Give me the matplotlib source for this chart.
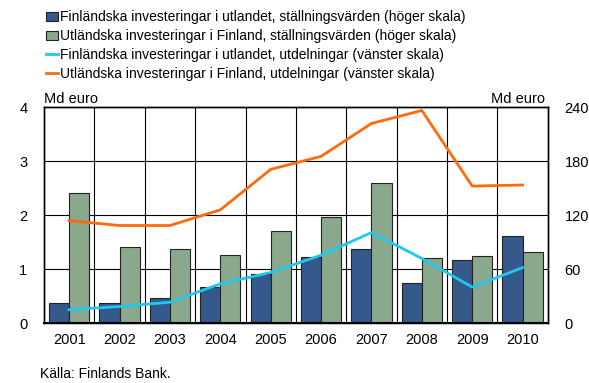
import numpy as np
import matplotlib.pyplot as plt

plt.rcParams['font.family'] = ['Liberation Sans', 'DejaVu Sans']

years = ["2001", "2002", "2003", "2004", "2005", "2006", "2007", "2008", "2009", "2010"]

# stocks, billion euro (right axis)
fi_abroad_stock = [23, 22, 28.5, 40, 55, 74, 83, 45, 70, 97]
foreign_in_fi_stock = [145, 85, 82, 76, 102, 118, 156, 72, 75, 79]

# dividends, billion euro (left axis)
fi_abroad_div = [0.25, 0.31, 0.39, 0.73, 0.94, 1.26, 1.68, 1.20, 0.67, 1.03]
foreign_in_fi_div = [1.90, 1.81, 1.81, 2.10, 2.85, 3.09, 3.70, 3.94, 2.54, 2.56]

labels = [
    "Finländska investeringar i utlandet, ställningsvärden (höger skala)",
    "Utländska investeringar i Finland, ställningsvärden (höger skala)",
    "Finländska investeringar i utlandet, utdelningar (vänster skala)",
    "Utländska investeringar i Finland, utdelningar (vänster skala)",
]

x = np.arange(len(years))

fig = plt.figure(figsize=(5.89, 3.83), dpi=100)
ax = fig.add_axes([0.0747, 0.156, 0.8553, 0.564])
ax2 = ax.twinx()

b1 = ax2.bar(x - 0.2, fi_abroad_stock, width=0.4, color="#36598b",
             edgecolor="#222222", linewidth=0.8, zorder=2)
b2 = ax2.bar(x + 0.2, foreign_in_fi_stock, width=0.4, color="#8aa88c",
             edgecolor="#222222", linewidth=0.8, zorder=2)
ax2.set_ylim(0, 240)
ax2.set_yticks([0, 60, 120, 180, 240])

# lines drawn on top of the bars
ax.set_zorder(ax2.get_zorder() + 1)
ax.patch.set_visible(False)
l1, = ax.plot(x, fi_abroad_div, color="#1ec8f0", lw=2, zorder=3)
l2, = ax.plot(x, foreign_in_fi_div, color="#ff6a0d", lw=2, zorder=3)
ax.set_ylim(0, 4)
ax.set_xlim(-0.5, len(years) - 0.5)
ax.set_yticks([0, 1, 2, 3, 4])

# grid: horizontal at the ticks, vertical between years
for yv in [1, 2, 3]:
    ax2.axhline(yv * 60, color="black", lw=0.8, zorder=1)
for xv in np.arange(0.5, len(years) - 0.5):
    ax2.axvline(xv, color="black", lw=0.8, zorder=1)

ax.set_xticks(x)
ax.set_xticklabels(years)
ax.tick_params(axis="x", length=0, labelsize=10.5, pad=7)
ax.tick_params(axis="y", length=0, labelsize=10.5, pad=12)
ax2.tick_params(axis="y", length=0, labelsize=10.5, pad=12)
for a in (ax, ax2):
    for s in a.spines.values():
        s.set_color("black")
        s.set_linewidth(1)
ax.spines["bottom"].set_linewidth(1.5)

ax.text(0.0, 1.005, "Md euro", transform=ax.transAxes, ha="left", va="bottom", fontsize=10.5)
ax.text(0.995, 1.005, "Md euro", transform=ax.transAxes, ha="right", va="bottom", fontsize=10.5)

fig.legend([b1, b2, l1, l2], labels, loc="upper left", bbox_to_anchor=(0.06, 1.0),
           frameon=False, fontsize=10, handlelength=0.9, handletextpad=0.1,
           labelspacing=0.35, borderaxespad=0.35)

fig.text(0.068, 0.005, "Källa: Finlands Bank.", fontsize=10, ha="left", va="bottom")

fig.savefig("out.png", dpi=100)
